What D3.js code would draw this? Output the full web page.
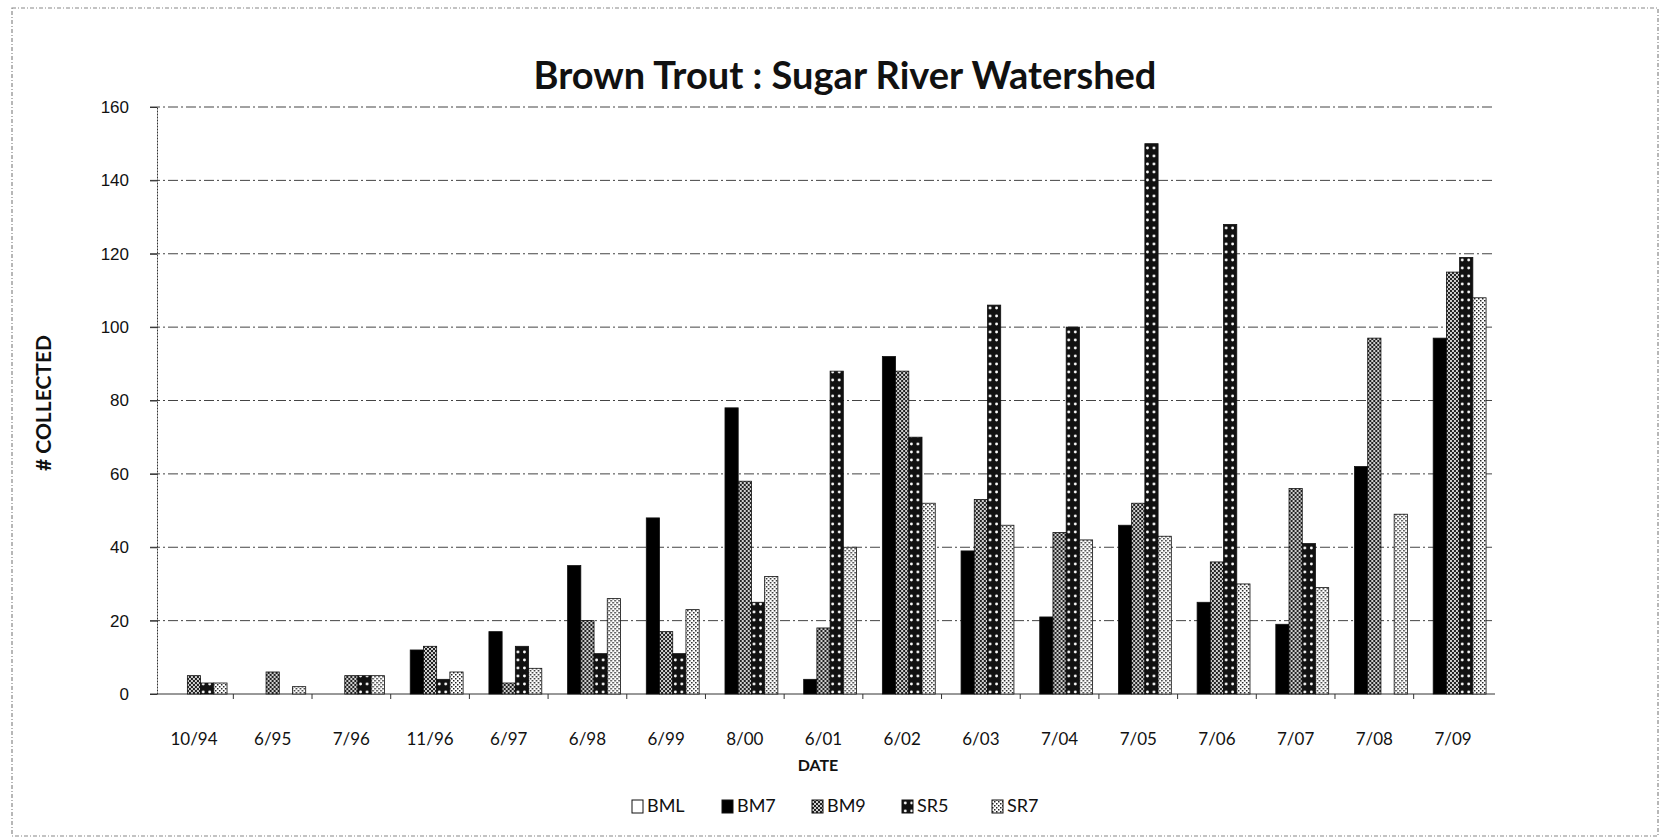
<!DOCTYPE html>
<html>
<head>
<meta charset="utf-8">
<script src="https://cdn.jsdelivr.net/npm/d3@7"></script>
<style>
  html, body { margin: 0; padding: 0; background: #fff; }
  svg { display: block; font-family: Lato, "Noto Sans", sans-serif; }
</style>
</head>
<body>
<div id="chart"></div>
<script>
// --- Data ---
const dates = ["10/94", "6/95", "7/96", "11/96", "6/97", "6/98", "6/99", "8/00", "6/01",
               "6/02", "6/03", "7/04", "7/05", "7/06", "7/07", "7/08", "7/09"];
const seriesNames = ["BML", "BM7", "BM9", "SR5", "SR7"];
const bml = [0, 0, 0, 0, 0, 0, 0, 0, 0, 0, 0, 0, 0, 0, 0, 0, 0];
const bm7 = [0, 0, 0, 12, 17, 35, 48, 78, 4, 92, 39, 21, 46, 25, 19, 62, 97];
const bm9 = [5, 6, 5, 13, 3, 20, 17, 58, 18, 88, 53, 44, 52, 36, 56, 97, 115];
const sr5 = [3, 0, 5, 4, 13, 11, 11, 25, 88, 70, 106, 100, 150, 128, 41, 0, 119];
const sr7 = [3, 2, 5, 6, 7, 26, 23, 32, 40, 52, 46, 42, 43, 30, 29, 49, 108];
const yTicks = [0, 20, 40, 60, 80, 100, 120, 140, 160];

const seriesValues = [bml, bm7, bm9, sr5, sr7];

// --- Setup ---
const width = 1663, height = 839;
const plot = { left: 157, right: 1490, top: 107, bottom: 694 };

const svg = d3.select("#chart").append("svg")
    .attr("width", width)
    .attr("height", height);

// fill patterns, mimic the old excel b/w hatches
const defs = svg.append("defs");

const pBM9 = defs.append("pattern").attr("id", "p-bm9")
    .attr("patternUnits", "userSpaceOnUse").attr("width", 4).attr("height", 4);
pBM9.append("rect").attr("width", 4).attr("height", 4).attr("fill", "#cfcfcf");
pBM9.append("rect").attr("width", 2).attr("height", 2).attr("fill", "#222");
pBM9.append("rect").attr("x", 2).attr("y", 2).attr("width", 2).attr("height", 2).attr("fill", "#222");

const pSR5 = defs.append("pattern").attr("id", "p-sr5")
    .attr("patternUnits", "userSpaceOnUse").attr("width", 6.5).attr("height", 8);
pSR5.append("rect").attr("width", 6.5).attr("height", 8).attr("fill", "#111");
pSR5.append("circle").attr("cx", 3.25).attr("cy", 4).attr("r", 1.4).attr("fill", "#fff");

const pSR7 = defs.append("pattern").attr("id", "p-sr7")
    .attr("patternUnits", "userSpaceOnUse").attr("width", 4).attr("height", 4);
pSR7.append("rect").attr("width", 4).attr("height", 4).attr("fill", "#fff");
pSR7.append("rect").attr("width", 1.5).attr("height", 1.5).attr("fill", "#222");
pSR7.append("rect").attr("x", 2).attr("y", 2).attr("width", 1.5).attr("height", 1.5).attr("fill", "#222");

const fills = ["#fff", "#000", "url(#p-bm9)", "url(#p-sr5)", "url(#p-sr7)"];

// outer frame (scanned border)
svg.append("rect")
    .attr("x", 12).attr("y", 8)
    .attr("width", 1646).attr("height", 828)
    .attr("fill", "none")
    .attr("stroke", "#888")
    .attr("stroke-width", 1.2)
    .attr("stroke-dasharray", "4 2 1 2");

// --- Scales ---
const x0 = d3.scaleBand()
    .domain(dates)
    .range([plot.left, plot.right])
    .paddingInner(0.16)
    .paddingOuter(0.05);

const x1 = d3.scaleBand()
    .domain(seriesNames)
    .range([0, x0.bandwidth()]);

const y = d3.scaleLinear()
    .domain([0, 160])
    .range([plot.bottom, plot.top]);

// gridlines
svg.append("g")
    .selectAll("line")
    .data(yTicks.filter(d => d > 0))
    .join("line")
    .attr("x1", plot.left - 7)
    .attr("x2", 1495)
    .attr("y1", d => y(d))
    .attr("y2", d => y(d))
    .attr("stroke", "#444")
    .attr("stroke-width", 1)
    .attr("stroke-dasharray", "10 3 2 3");

// y axis
const yAxis = svg.append("g")
    .attr("transform", `translate(${plot.left},0)`)
    .call(d3.axisLeft(y).tickValues(yTicks).tickSize(7).tickPadding(21).tickSizeOuter(0));
yAxis.select(".domain").attr("stroke", "#333").attr("stroke-dasharray", "2 1");
yAxis.selectAll(".tick line").attr("stroke", "#333");
yAxis.selectAll("text")
    .attr("font-size", 17)
    .attr("fill", "#111");

// x axis baseline + category ticks
svg.append("line")
    .attr("x1", plot.left - 7).attr("x2", 1495)
    .attr("y1", y(0)).attr("y2", y(0))
    .attr("stroke", "#333");

svg.append("g")
    .selectAll("line")
    .data(dates.slice(1))
    .join("line")
    .attr("x1", d => x0(d) - x0.step() * x0.paddingInner() / 2)
    .attr("x2", d => x0(d) - x0.step() * x0.paddingInner() / 2)
    .attr("y1", y(0)).attr("y2", y(0) + 5)
    .attr("stroke", "#333");

svg.append("g")
    .selectAll("text")
    .data(dates)
    .join("text")
    .attr("x", d => x0(d) + x0.bandwidth() / 2)
    .attr("y", 745)
    .attr("text-anchor", "middle")
    .attr("font-size", 17)
    .attr("fill", "#111")
    .text(d => d);

// --- Bars ---
const groups = svg.append("g")
    .selectAll("g")
    .data(dates.map((d, i) => ({ date: d, i })))
    .join("g")
    .attr("transform", d => `translate(${x0(d.date)},0)`);

groups.selectAll("rect")
    .data(d => seriesNames.map((s, k) => ({ series: s, k, value: seriesValues[k][d.i] })))
    .join("rect")
    .filter(d => d.value > 0)
    .attr("x", d => x1(d.series))
    .attr("width", x1.bandwidth())
    .attr("y", d => y(d.value))
    .attr("height", d => y(0) - y(d.value))
    .attr("fill", d => fills[d.k])
    .attr("stroke", "#111")
    .attr("stroke-width", 0.8);

// --- Titles ---
svg.append("text")
    .attr("x", 845)
    .attr("y", 89)
    .attr("text-anchor", "middle")
    .attr("font-size", 38)
    .attr("font-weight", "bold")
    .attr("fill", "#111")
    .text("Brown Trout : Sugar River Watershed");

svg.append("text")
    .attr("transform", "translate(46,403) rotate(-90)")
    .attr("text-anchor", "middle")
    .attr("dominant-baseline", "middle")
    .attr("font-size", 21)
    .attr("font-weight", "bold")
    .attr("fill", "#111")
    .text("# COLLECTED");

svg.append("text")
    .attr("x", 818)
    .attr("y", 771)
    .attr("text-anchor", "middle")
    .attr("font-size", 16)
    .attr("font-weight", "bold")
    .attr("fill", "#111")
    .text("DATE");

// --- Legend ---
const legend = svg.append("g")
    .selectAll("g")
    .data(seriesNames)
    .join("g")
    .attr("transform", (d, i) => `translate(${632 + i * 90},807)`);

legend.append("rect")
    .attr("x", 0).attr("y", -7)
    .attr("width", 11).attr("height", 13)
    .attr("fill", (d, i) => fills[i])
    .attr("stroke", "#111")
    .attr("stroke-width", 1);

legend.append("text")
    .attr("x", 15)
    .attr("y", 0)
    .attr("dominant-baseline", "middle")
    .attr("font-size", 18)
    .attr("fill", "#111")
    .text(d => d);
</script>
</body>
</html>
